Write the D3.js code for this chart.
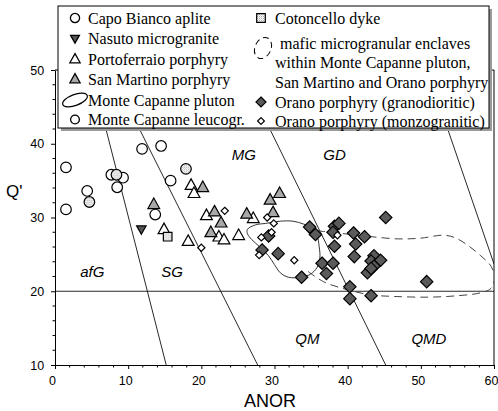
<!DOCTYPE html>
<html>
<head>
<meta charset="utf-8">
<script src="https://cdn.jsdelivr.net/npm/d3@7"></script>
<style>
  body { margin: 0; background: #fff; }
  svg { display: block; }
</style>
</head>
<body>
<svg id="chart" width="498" height="411"></svg>
<script>
// ANOR vs Q' classification diagram for the Elba intrusive units.

// Axis ticks
const xTicks = [0, 10, 20, 30, 40, 50, 60];
const yTicks = [10, 20, 30, 40, 50];

// Sample groups: [ANOR, Q']
const capoBianco = [[1.5,36.8],[1.5,31.1],[4.4,33.6],[7.7,35.8],[9.3,35.4],[8.5,34.1],
                    [11.9,39.3],[14.5,39.7],[15.8,35.0],[13.7,30.4]];
const leucogranite = [[4.7,32.1],[8.4,35.8],[17.9,36.6]];
const nasuto = [[11.8,28.4]];
const cotoncello = [[15.4,27.4]];
const portoferraio = [[14.9,28.4],[18.2,26.8],[18.6,34.4],[19.0,33.3],[20.7,30.3],
                      [22.4,27.4],[23.1,27.0],[25.1,27.6],[27.1,29.9]];
const sanMartino = [[13.5,31.8],[20.2,34.1],[21.8,30.8],[22.7,29.3],[21.3,28.0],
                    [26.2,30.5],[29.4,32.4],[30.7,33.3],[29.8,30.7]];
const oranoGranodioritic = [[29.2,27.5],[28.3,25.6],[30.5,25.1],[33.7,21.9],[34.8,28.7],
                            [35.6,27.7],[36.5,23.8],[38.0,23.8],[37.1,22.4],[38.2,28.8],
                            [38.8,29.2],[38.0,28.0],[38.2,26.1],[40.8,27.9],[42.3,27.4],
                            [41.1,26.4],[40.9,24.7],[43.6,24.8],[43.2,24.1],[44.5,24.2],
                            [43.6,23.4],[42.7,22.5],[43.2,23.1],[45.2,30.0],[50.8,21.3],
                            [40.3,20.6],[43.2,19.4],[40.3,19.0]];
const oranoMonzogranitic = [[23.2,30.9],[29.0,30.0],[29.9,29.2],[28.2,27.3],[29.6,28.0],
                            [27.9,24.9],[32.7,24.2],[20.0,25.9],[38.6,27.6]];

// Outline of the Monte Capanne pluton field
const plutonField = [[26.3,28.4],[27.4,29.0],[28.8,29.2],[30.8,29.5],[32.5,29.5],[34.0,29.1],
                     [35.1,28.6],[35.8,27.6],[36.1,26.1],[36.2,24.5],[35.8,23.2],[34.9,22.3],
                     [33.6,21.9],[31.9,21.9],[30.8,22.5],[30.0,23.6],[29.2,24.8],[28.0,26.0],
                     [26.9,27.0],[26.3,27.8]];
// Field of the mafic microgranular enclaves (continues inside the pluton field)
const enclaveField = [[35.8,28.2],[37.7,28.0],[40.4,27.7],[43.2,27.4],[46.9,27.1],[50.0,27.2],
                      [53.2,27.6],[54.8,27.2],[56.6,26.1],[58.2,24.8],[59.6,23.4],[60.1,21.8],
                      [59.6,20.4],[58.2,19.8],[55.1,19.4],[51.0,19.2],[46.3,19.3],[43.2,19.5],
                      [40.0,20.2],[36.7,21.3],[34.3,22.9]];

// Classification boundaries
const fieldBoundaries = [
  [[4.9,50],[15.2,10]],
  [[7.5,50],[27.7,10]],
  [[25.4,50],[45.2,10]],
  [[50.9,50],[60,23.7]]
];
const quartzLine = [[0,20],[60,20]];
const fieldNames = ["afG", "SG", "MG", "GD", "QM", "QMD"];
const fieldNameAt = [[5.1,22.7],[16.0,22.7],[25.8,38.5],[38.2,38.5],[34.5,13.5],[51.1,13.5]];

// Legend entries
const legendLeftLabels = ["Capo Bianco aplite", "Nasuto microgranite", "Portoferraio porphyry",
                          "San Martino porphyry", "Monte Capanne pluton", "Monte Capanne leucogr."];
const enclaveLines = ["mafic microgranular enclaves", "within Monte Capanne pluton,",
                      "San Martino and Orano porphyry"];

const svg = d3.select("#chart");
const x = d3.scaleLinear().domain([0, 60]).range([55, 494]);
const y = d3.scaleLinear().domain([10, 50]).range([365, 70]);

const defs = svg.append("defs");
const dots = defs.append("pattern").attr("id", "stipple")
  .attr("width", 2).attr("height", 2).attr("patternUnits", "userSpaceOnUse");
dots.append("rect").attr("width", 2).attr("height", 2).attr("fill", "#fff");
dots.append("rect").attr("width", 1).attr("height", 1).attr("fill", "#b0b0b0");
dots.append("rect").attr("x", 1).attr("y", 1).attr("width", 1).attr("height", 1).attr("fill", "#d8d8d8");
defs.append("clipPath").attr("id", "plotClip")
  .append("rect").attr("x", x(0)).attr("y", y(50))
  .attr("width", x(60) - x(0)).attr("height", y(10) - y(50));

const line = d3.line().x(d => x(d[0])).y(d => y(d[1]));

// Boundaries
const plot = svg.append("g").attr("clip-path", "url(#plotClip)");
plot.selectAll("path.bound").data(fieldBoundaries.concat([quartzLine])).join("path")
  .attr("class", "bound").attr("d", line)
  .attr("fill", "none").attr("stroke", "#111").attr("stroke-width", 0.9);

// Fields
plot.append("path").datum(plutonField)
  .attr("d", d3.line().x(d => x(d[0])).y(d => y(d[1])).curve(d3.curveCatmullRomClosed))
  .attr("fill", "none").attr("stroke", "#333").attr("stroke-width", 1);
plot.append("path").datum(enclaveField)
  .attr("d", d3.line().x(d => x(d[0])).y(d => y(d[1])).curve(d3.curveCatmullRom))
  .attr("fill", "none").attr("stroke", "#444").attr("stroke-width", 1)
  .attr("stroke-dasharray", "8,5");

// Field names
const fontSans = "'Liberation Sans', Arial, sans-serif";
svg.selectAll("text.field").data(fieldNames).join("text")
  .attr("class", "field")
  .attr("x", (d, i) => x(fieldNameAt[i][0]))
  .attr("y", (d, i) => y(fieldNameAt[i][1]))
  .attr("dy", "0.35em").attr("text-anchor", "middle")
  .attr("font-family", fontSans)
  .attr("font-style", "italic").attr("font-size", 15)
  .text(d => d);

// Axes
const xAxis = svg.append("g").attr("transform", `translate(0,${y(10)})`)
  .call(d3.axisBottom(x).tickValues(xTicks).tickSize(4).tickSizeOuter(0).tickFormat(d3.format("d")));
xAxis.append("g").selectAll("line").data(d3.range(0, 61, 2).filter(v => v % 10)).join("line")
  .attr("x1", d => x(d)).attr("x2", d => x(d)).attr("y1", 0).attr("y2", 2.5).attr("stroke", "#000");
xAxis.selectAll(".tick text").attr("font-family", fontSans).attr("font-size", 12.5)
  .attr("dx", -3).attr("dy", "1.0em");
const yAxis = svg.append("g").attr("transform", `translate(${x(0)},0)`)
  .call(d3.axisLeft(y).tickValues(yTicks).tickSize(4).tickSizeOuter(0).tickFormat(d3.format("d")));
yAxis.append("g").selectAll("line").data(d3.range(10, 51, 2).filter(v => v % 10)).join("line")
  .attr("y1", d => y(d)).attr("y2", d => y(d)).attr("x1", 0).attr("x2", -2.5).attr("stroke", "#000");
yAxis.selectAll(".tick text").attr("font-family", fontSans).attr("font-size", 12.5).attr("dx", "-0.3em");
svg.selectAll(".domain").attr("stroke", "#000");

// Frame on the right and top
svg.append("path")
  .attr("d", `M${x(0)},${y(50)}H${x(60)}V${y(10)}`)
  .attr("fill", "none").attr("stroke", "#000").attr("stroke-width", 1);

// Axis titles
svg.append("text").attr("x", 270).attr("y", 407).attr("text-anchor", "middle")
  .attr("font-family", fontSans).attr("font-size", 18).text("ANOR");
svg.append("text").attr("x", 6).attr("y", 197)
  .attr("font-family", fontSans).attr("font-size", 17).text("Q'");

// Marker shapes
const shapes = {
  circle: r => `M${r},0A${r},${r} 0 1,1 ${-r},0A${r},${r} 0 1,1 ${r},0Z`,
  triUp: s => `M0,${-s}L${s * 0.95},${s * 0.7}L${-s * 0.95},${s * 0.7}Z`,
  triDown: s => `M0,${s}L${s * 0.95},${-s * 0.7}L${-s * 0.95},${-s * 0.7}Z`,
  square: s => `M${-s},${-s}H${s}V${s}H${-s}Z`,
  diamond: s => `M0,${-s}L${s},0L0,${s}L${-s},0Z`
};

const series = [
  { data: capoBianco, shape: "circle", size: 5.3, fill: "#fff" },
  { data: leucogranite, shape: "circle", size: 5.3, fill: "url(#stipple)" },
  { data: portoferraio, shape: "triUp", size: 6.2, fill: "#fff" },
  { data: sanMartino, shape: "triUp", size: 6.2, fill: "#a8a8a8" },
  { data: nasuto, shape: "triDown", size: 5, fill: "#555" },
  { data: cotoncello, shape: "square", size: 4.3, fill: "url(#stipple)" },
  { data: oranoGranodioritic, shape: "diamond", size: 6.2, fill: "#5a5a5a" },
  { data: oranoMonzogranitic, shape: "diamond", size: 3.6, fill: "#fff" }
];

const marks = svg.append("g");
series.forEach(s => {
  marks.append("g").selectAll("path").data(s.data).join("path")
    .attr("transform", d => `translate(${x(d[0])},${y(d[1])})`)
    .attr("d", shapes[s.shape](s.size))
    .attr("fill", s.fill).attr("stroke", "#000").attr("stroke-width", 1.2);
});

// Legend box with drop shadow
const lg = svg.append("g");
lg.append("rect").attr("x", 61).attr("y", 9).attr("width", 431).attr("height", 122).attr("fill", "#9a9a9a");
lg.append("rect").attr("x", 58).attr("y", 6).attr("width", 431).attr("height", 122)
  .attr("fill", "#fff").attr("stroke", "#000").attr("stroke-width", 1);

const serif = "'Liberation Serif', 'Times New Roman', serif";
const legendFont = 16;
const legendLeftKeys = [
  { shape: "circle", size: 4.6, fill: "#fff" },
  { shape: "triDown", size: 4.6, fill: "#555" },
  { shape: "triUp", size: 5.4, fill: "#fff" },
  { shape: "triUp", size: 5.4, fill: "#a8a8a8" },
  { shape: null },
  { shape: "circle", size: 4.4, fill: "#fff" }
];
const leftRows = [18, 38.5, 59, 79, 100, 119.5];
legendLeftLabels.forEach((label, i) => {
  const key = legendLeftKeys[i];
  const cy = leftRows[i];
  if (key.shape) {
    lg.append("path").attr("transform", `translate(75,${cy})`)
      .attr("d", shapes[key.shape](key.size)).attr("fill", key.fill)
      .attr("stroke", "#000").attr("stroke-width", 1.3);
  } else {
    lg.append("ellipse").attr("cx", 75).attr("cy", cy).attr("rx", 13).attr("ry", 5.5)
      .attr("transform", `rotate(-20,75,${cy})`)
      .attr("fill", "none").attr("stroke", "#000").attr("stroke-width", 1.2);
  }
  lg.append("text").attr("x", 88).attr("y", cy).attr("dy", "0.35em")
    .attr("font-family", serif).attr("font-size", legendFont).text(label);
});

// Right column
lg.append("path").attr("transform", "translate(261,18)").attr("d", shapes.square(4.3))
  .attr("fill", "url(#stipple)").attr("stroke", "#000").attr("stroke-width", 1.2);
lg.append("text").attr("x", 275).attr("y", 18).attr("dy", "0.35em")
  .attr("font-family", serif).attr("font-size", legendFont).text("Cotoncello dyke");
lg.append("ellipse").attr("cx", 263).attr("cy", 48).attr("rx", 8).attr("ry", 11)
  .attr("transform", "rotate(25,263,48)")
  .attr("fill", "none").attr("stroke", "#000").attr("stroke-width", 1)
  .attr("stroke-dasharray", "6,4");
const enclaveRows = [[280, 43], [275, 62], [275, 82]];
enclaveLines.forEach((t, i) => {
  lg.append("text").attr("x", enclaveRows[i][0]).attr("y", enclaveRows[i][1]).attr("dy", "0.35em")
    .attr("font-family", serif).attr("font-size", legendFont).text(t);
});
lg.append("path").attr("transform", "translate(261,102)").attr("d", shapes.diamond(5))
  .attr("fill", "#5a5a5a").attr("stroke", "#000").attr("stroke-width", 1.2);
lg.append("text").attr("x", 275).attr("y", 102).attr("dy", "0.35em")
  .attr("font-family", serif).attr("font-size", legendFont).text("Orano porphyry (granodioritic)");
lg.append("path").attr("transform", "translate(261,121)").attr("d", shapes.diamond(3.4))
  .attr("fill", "#fff").attr("stroke", "#000").attr("stroke-width", 1.2);
lg.append("text").attr("x", 275).attr("y", 121).attr("dy", "0.35em")
  .attr("font-family", serif).attr("font-size", legendFont).text("Orano porphyry (monzogranitic)");
</script>
</body>
</html>
